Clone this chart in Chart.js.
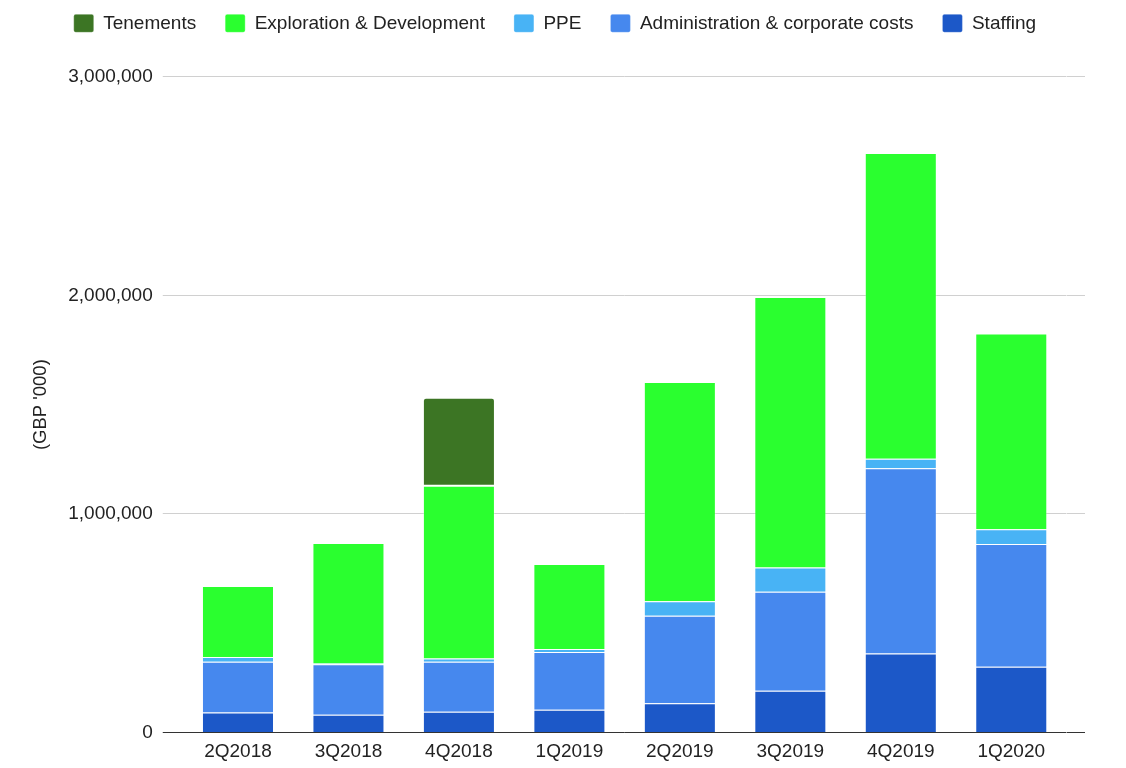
<!DOCTYPE html>
<html>
<head>
<meta charset="utf-8">
<script src="https://cdn.jsdelivr.net/npm/chart.js@4.4.0/dist/chart.umd.min.js"></script>
<style>
  body { margin: 0; background: #fff; }
  #wrap { width: 1126px; height: 768px; }
</style>
</head>
<body>
<div id="wrap"><canvas id="costChart"></canvas></div>
<script>
var quarters = ["2Q2018", "3Q2018", "4Q2018", "1Q2019", "2Q2019", "3Q2019", "4Q2019", "1Q2020"];

var staffing = [91000, 81000, 95000, 104000, 134000, 191000, 362000, 301000];
var admin = [233000, 231000, 229000, 264000, 400000, 453000, 847000, 562000];
var ppe = [21000, 4000, 15000, 14000, 66000, 111000, 43000, 67000];
var exploration = [325000, 551000, 790000, 389000, 1004000, 1238000, 1399000, 895000];
var tenements = [null, null, 402000, null, null, null, null, null];

var yTicks = [0, 1000000, 2000000, 3000000];

var textFont = { family: "'Liberation Sans', Arial, sans-serif", size: 19 };
var edge = 'rgba(255,255,255,0.3)';

function gridColor(ctx) {
	return ctx.tick && ctx.tick.value === 0 ? '#333333' : '#d0d0d0';
}

// push the plot down below the legend
var legendGap = {
	id: 'legendGap',
	beforeLayout: function (chart) {
		if (chart.legend && !chart.legend._gapDone) {
			var fit = chart.legend.fit;
			chart.legend.fit = function () {
				fit.call(this);
				this.height += 34;
			};
			chart.legend._gapDone = true;
		}
	}
};

var ctx = document.getElementById('costChart');

var costChart = new Chart(ctx, {
	type: 'bar',
	data: {
		labels: quarters,
		datasets: [
			{ label: "Staffing", data: staffing, backgroundColor: "#1c58c8", borderColor: edge, borderWidth: 1 },
			{ label: "Administration & corporate costs", data: admin, backgroundColor: "#4688ee", borderColor: edge, borderWidth: 1 },
			{ label: "PPE", data: ppe, backgroundColor: "#48b3f5", borderColor: edge, borderWidth: 1 },
			{ label: "Exploration & Development", data: exploration, backgroundColor: "#2aff2f", borderColor: edge, borderWidth: 1 },
			{
				label: "Tenements",
				data: tenements,
				backgroundColor: "#3c7524",
				borderColor: edge,
				borderWidth: 1,
				borderRadius: { topLeft: 3, topRight: 3, bottomLeft: 0, bottomRight: 0 },
				borderSkipped: false
			}
		]
	},
	options: {
		responsive: true,
		maintainAspectRatio: false,
		animation: false,
		layout: { padding: { top: -15.2, left: 24.75, right: 41, bottom: 5.5 } },
		datasets: { bar: { barPercentage: 0.652, categoryPercentage: 1 } },
		plugins: {
			tooltip: { enabled: false },
			legend: {
				position: 'top',
				reverse: true,
				labels: {
					boxWidth: 20,
					boxHeight: 18,
					padding: 29,
					color: '#222222',
					font: textFont,
					useBorderRadius: true,
					borderRadius: 2
				}
			}
		},
		scales: {
			x: {
				stacked: true,
				afterFit: function (scale) { scale.height = 30; },
				grid: { display: false, drawTicks: false },
				border: { display: false },
				ticks: { color: '#222222', font: textFont, padding: 7.5, maxRotation: 0, autoSkip: false }
			},
			y: {
				stacked: true,
				min: 0,
				max: 3000000,
				afterBuildTicks: function (scale) {
					scale.ticks = yTicks.map(function (v) { return { value: v }; });
				},
				afterFit: function (scale) { scale.width = 158; },
				grid: { color: gridColor, lineWidth: 1, tickLength: 20 },
				border: { display: false },
				ticks: {
					color: '#222222',
					font: textFont,
					padding: 10,
					callback: function (v) { return Number(v).toLocaleString('en-US'); }
				},
				title: {
					display: true,
					text: "(GBP '000)",
					color: '#222222',
					font: { family: "'Liberation Sans', Arial, sans-serif", size: 18.5 },
					padding: { top: 5.5, bottom: 17 }
				}
			},
			y2: {
				display: true,
				position: 'right',
				min: 0,
				max: 3000000,
				afterBuildTicks: function (scale) {
					scale.ticks = yTicks.map(function (v) { return { value: v }; });
				},
				afterFit: function (scale) { scale.width = 18.5; },
				grid: { color: gridColor, lineWidth: 1, tickLength: 18.5, drawOnChartArea: false },
				border: { display: false },
				ticks: { display: false }
			}
		}
	},
	plugins: [legendGap]
});
</script>
</body>
</html>
